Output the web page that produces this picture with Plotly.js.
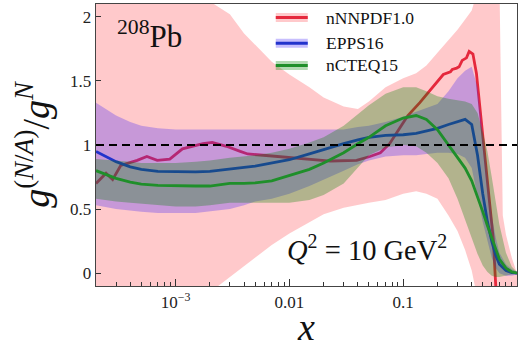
<!DOCTYPE html>
<html>
<head>
<meta charset="utf-8">
<script src="https://cdn.plot.ly/plotly-3.0.1.min.js"></script>
<style>
  html, body { margin: 0; padding: 0; background: #fff; }
  #plot { width: 520px; height: 348px; }
</style>
</head>
<body>
<div id="plot"></div>
<script>
// Gluon nuclear modification ratio for 208Pb at Q^2 = 10 GeV^2

// common x grid for EPPS16 and nCTEQ15
const xGrid = [2e-4, 3e-4, 4e-4, 5e-4, 7e-4, 1e-3, 1.5e-3, 2e-3, 3e-3, 4e-3, 5e-3, 7e-3,
  0.01, 0.015, 0.02, 0.03, 0.04, 0.05, 0.07, 0.1, 0.13, 0.16, 0.2, 0.25, 0.3, 0.35,
  0.4, 0.45, 0.5, 0.55, 0.6, 0.65, 0.7, 0.8, 0.9, 1.0];

// EPPS16
const eppsCentral = [0.95, 0.87, 0.83, 0.81, 0.795, 0.79, 0.79, 0.795, 0.81, 0.825, 0.835, 0.86,
  0.885, 0.93, 0.965, 1.01, 1.04, 1.06, 1.075, 1.08, 1.09, 1.11, 1.13, 1.16, 1.18, 1.20,
  1.16, 0.92, 0.62, 0.40, 0.25, 0.14, 0.07, 0.02, 0.005, 0.0];
const eppsUpper = [1.33, 1.23, 1.18, 1.15, 1.13, 1.12, 1.12, 1.12, 1.12, 1.12, 1.12, 1.12,
  1.12, 1.125, 1.12, 1.12, 1.14, 1.15, 1.18, 1.22, 1.26, 1.29, 1.32, 1.42, 1.52, 1.58,
  1.61, 1.45, 1.10, 0.75, 0.45, 0.28, 0.16, 0.07, 0.03, 0.01];
const eppsLower = [0.53, 0.50, 0.49, 0.48, 0.47, 0.47, 0.47, 0.48, 0.50, 0.53, 0.56, 0.58,
  0.62, 0.68, 0.73, 0.80, 0.85, 0.88, 0.91, 0.92, 0.92, 0.93, 0.94, 0.94, 0.93, 0.90,
  0.82, 0.60, 0.40, 0.25, 0.12, 0.04, 0.0, -0.02, -0.02, -0.01];

// nCTEQ15
const ncteqCentral = [0.80, 0.74, 0.71, 0.695, 0.685, 0.68, 0.68, 0.68, 0.70, 0.70, 0.705, 0.72,
  0.76, 0.81, 0.86, 0.94, 1.01, 1.06, 1.15, 1.21, 1.23, 1.20, 1.12, 1.00, 0.91, 0.82,
  0.72, 0.60, 0.48, 0.37, 0.27, 0.18, 0.11, 0.04, 0.01, 0.0];
const ncteqUpper = [0.89, 0.88, 0.87, 0.86, 0.86, 0.86, 0.87, 0.88, 0.90, 0.91, 0.92, 0.94,
  0.97, 1.02, 1.06, 1.15, 1.24, 1.31, 1.40, 1.45, 1.45, 1.42, 1.38, 1.36, 1.35, 1.34,
  1.32, 1.25, 1.10, 0.95, 0.75, 0.55, 0.38, 0.16, 0.05, 0.01];
const ncteqLower = [0.58, 0.56, 0.55, 0.54, 0.53, 0.52, 0.52, 0.53, 0.55, 0.55, 0.55, 0.55,
  0.55, 0.57, 0.61, 0.70, 0.82, 0.92, 0.98, 1.0, 0.99, 0.94, 0.86, 0.74, 0.58, 0.42,
  0.28, 0.15, 0.06, 0.01, -0.02, -0.03, -0.03, -0.02, -0.01, -0.005];

// nNNPDF1.0 uncertainty band
const nnpdfBandX = [2e-4, 5e-4, 1e-3, 1.5e-3, 2e-3, 3e-3, 4e-3, 5e-3, 7e-3, 0.01, 0.015, 0.02,
  0.03, 0.04, 0.05, 0.07, 0.1, 0.13, 0.16, 0.2, 0.25, 0.3, 0.35, 0.4, 0.45, 0.5, 0.55,
  0.6, 0.65, 0.7, 0.75, 0.8, 0.9, 1.0];
const nnpdfUpper = [2.6, 2.6, 2.5, 2.3, 2.12, 2.02, 1.87, 1.78, 1.65, 1.55, 1.45, 1.37,
  1.30, 1.28, 1.34, 1.45, 1.52, 1.56, 1.62, 1.72, 1.82, 1.90, 1.98, 2.05, 2.2, 2.4, 2.6,
  2.6, 2.6, 2.3, 0.45, 0.3, 0.12, 0.0];
const nnpdfLower = [-0.3, -0.3, -0.3, -0.25, -0.15, -0.03, 0.06, 0.12, 0.22, 0.31, 0.40, 0.46,
  0.51, 0.53, 0.55, 0.57, 0.62, 0.64, 0.62, 0.58, 0.45, 0.33, 0.18, 0.02, -0.2, -0.3, -0.3,
  -0.3, -0.3, -0.3, -0.3, -0.3, -0.3, -0.3];

// nNNPDF1.0 central value
const nnpdfX = [2.0e-4, 2.45e-4, 2.8e-4, 3.3e-4, 4.6e-4, 5.6e-4, 6.9e-4, 8.9e-4, 1.15e-3, 1.74e-3,
  2.1e-3, 2.8e-3, 3.7e-3, 4.3e-3, 5.9e-3, 8.3e-3, 0.0117, 0.0163, 0.023, 0.039, 0.051, 0.063,
  0.076, 0.093, 0.11, 0.14, 0.17, 0.2, 0.225, 0.26, 0.27, 0.295, 0.31, 0.33, 0.36, 0.38,
  0.41, 0.44, 0.47, 0.5, 0.54, 0.58, 0.62, 0.64, 0.66];
const nnpdfCentral = [0.70, 0.78, 0.73, 0.84, 0.88, 0.91, 0.88, 0.89, 0.97, 1.01,
  1.02, 0.99, 0.95, 0.93, 0.92, 0.91, 0.895, 0.885, 0.875, 0.88, 0.91, 0.94,
  1.01, 1.13, 1.23, 1.33, 1.42, 1.50, 1.55, 1.57, 1.59, 1.60, 1.61, 1.66, 1.68, 1.73,
  1.71, 1.56, 1.32, 1.06, 0.78, 0.52, 0.26, 0.02, -0.2];

const legendLabels = ['nNNPDF1.0', 'EPPS16', 'nCTEQ15'];
const yTicks = [0, 0.5, 1, 1.5, 2];
const yTickText = ['0', '0.5', '1', '1.5', '2'];
const xTicks = [0.001, 0.01, 0.1, 1];
const xTickText = ['10<sup>\u22123</sup>', '0.01', '0.1', '1'];

const RED = '#e5283c', BLUE = '#2233cc', GREEN = '#1f8f2a';
const RED_FILL = 'rgba(255,60,70,0.28)';
const BLUE_FILL = 'rgba(70,40,250,0.30)';
const GREEN_FILL = 'rgba(0,128,0,0.30)';

function band(x, hi, lo, fill) {
  return {
    x: x.concat(x.slice().reverse()),
    y: hi.concat(lo.slice().reverse()),
    type: 'scatter', mode: 'lines', fill: 'toself',
    fillcolor: fill, line: {width: 0}, hoverinfo: 'skip', showlegend: false
  };
}
function curve(x, y, color) {
  return {x: x, y: y, type: 'scatter', mode: 'lines',
    line: {color: color, width: 2.8}, showlegend: false};
}

const minorVals = [];
[1e-4, 1e-3, 1e-2, 1e-1].forEach(d => {
  for (let k = 2; k <= 9; k++) minorVals.push(k * d);
});

const traces = [
  band(nnpdfBandX, nnpdfUpper, nnpdfLower, RED_FILL),
  curve(nnpdfX, nnpdfCentral, RED),
  band(xGrid, eppsUpper, eppsLower, BLUE_FILL),
  curve(xGrid, eppsCentral, BLUE),
  band(xGrid, ncteqUpper, ncteqLower, GREEN_FILL),
  curve(xGrid, ncteqCentral, GREEN)
];

const serif = 'Liberation Serif, DejaVu Serif, serif';

// hand-drawn legend: band patch with the central line across it
const legendFills = [RED_FILL, BLUE_FILL, GREEN_FILL];
const legendLines = [RED, BLUE, GREEN];
const legendRows = [0.952, 0.861, 0.782];
const shapes = [{
  type: 'line', xref: 'paper', yref: 'y', x0: 0, x1: 1, y0: 1, y1: 1,
  line: {color: '#000', width: 2, dash: '8px,5px'}
}];
const annotations = [];
legendLabels.forEach((lab, i) => {
  const yc = legendRows[i];
  shapes.push({type: 'rect', xref: 'paper', yref: 'paper', x0: 0.427, x1: 0.503,
    y0: yc - 0.016, y1: yc + 0.016, fillcolor: legendFills[i], line: {width: 0}});
  shapes.push({type: 'line', xref: 'paper', yref: 'paper', x0: 0.427, x1: 0.503,
    y0: yc, y1: yc, line: {color: legendLines[i], width: 3}});
  annotations.push({xref: 'paper', yref: 'paper', x: 0.541, y: yc, xanchor: 'left',
    yanchor: 'middle', text: lab, showarrow: false,
    font: {family: serif, size: 17.5, color: '#111'}});
});
annotations.push({xref: 'paper', yref: 'paper', x: 0.046, y: 0.893, xanchor: 'left',
  yanchor: 'middle', text: '<sup>208</sup>Pb', showarrow: false,
  font: {family: serif, size: 31, color: '#111'}});
annotations.push({xref: 'paper', yref: 'paper', x: 0.643, y: 0.135, xanchor: 'center',
  yanchor: 'middle', text: '<i>Q</i><sup>2</sup> = 10 GeV<sup>2</sup>', showarrow: false,
  font: {family: serif, size: 28.5, color: '#111'}});

const layout = {
  width: 520, height: 348,
  margin: {l: 96, r: 3, t: 4, b: 62},
  paper_bgcolor: '#fff', plot_bgcolor: '#fff',
  font: {family: serif, color: '#222'},
  xaxis: {
    type: 'log', range: [Math.log10(2e-4), 0],
    tickvals: xTicks, ticktext: xTickText,
    ticks: 'inside', ticklen: 7, tickwidth: 1, tickcolor: '#333',
    minor: {tickvals: minorVals, ticks: 'inside', ticklen: 4, tickcolor: '#333', tickwidth: 1},
    showline: true, mirror: true, linecolor: '#444', linewidth: 1.3,
    showgrid: false, zeroline: false,
    tickfont: {family: serif, size: 17, color: '#222'},
    title: {text: '<i>x</i>', font: {family: serif, size: 38, color: '#111'}, standoff: 12}
  },
  yaxis: {
    range: [-0.1, 2.1],
    tickvals: yTicks, ticktext: yTickText,
    ticks: 'inside', ticklen: 5, tickwidth: 1, tickcolor: '#333',
    showline: true, mirror: true, linecolor: '#444', linewidth: 1.3,
    showgrid: false, zeroline: false,
    tickfont: {family: serif, size: 17, color: '#222'},
    title: {text: '<i>g</i><sup>(<i>N</i>/<i>A</i>)</sup>/<i>g</i><sup><i>N</i></sup>',
      font: {family: serif, size: 38, color: '#111'}, standoff: 8}
  },
  shapes: shapes,
  annotations: annotations,
  showlegend: false
};

Plotly.newPlot('plot', traces, layout, {staticPlot: true, displayModeBar: false});
</script>
</body>
</html>
